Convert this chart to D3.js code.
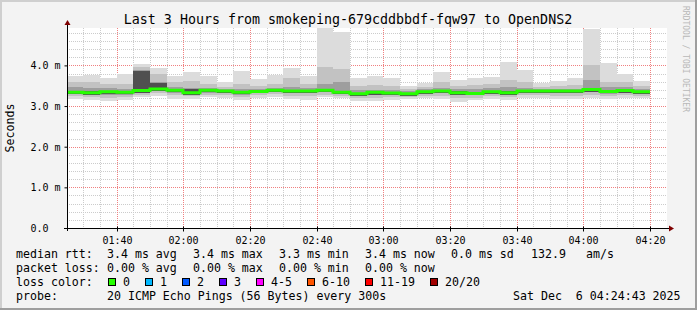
<!DOCTYPE html>
<html><head><meta charset="utf-8">
<script src="https://cdn.jsdelivr.net/npm/d3@7"></script>
<style>
body{margin:0;background:#f3f3f3}
svg{display:block}
text{font-family:"DejaVu Sans Mono",monospace;white-space:pre}
</style>
</head><body>
<svg id="c" width="697" height="310"></svg>
<script>
// ---------- data ----------
const titleText = "Last 3 Hours from smokeping-679cddbbdf-fqw97 to OpenDNS2";
const xTickLabels = ["01:40","02:00","02:20","02:40","03:00","03:20","03:40","04:00","04:20"];
const yTickValues = [0, 1, 2, 3, 4];
const yTickLabels = ["0.0", "1.0 m", "2.0 m", "3.0 m", "4.0 m"];
// rtt in ms, one entry per 5-minute step starting 01:25
const smokeMax = [3.74,3.76,3.70,3.79,4.03,3.93,3.74,3.83,3.73,3.60,3.86,3.66,3.76,3.94,3.74,4.93,4.81,3.70,3.74,3.68,3.49,3.56,3.83,3.64,3.68,3.72,4.09,3.88,3.56,3.61,3.68,4.89,4.06,3.80,3.61];
const smokeU2  = [3.60,3.58,3.55,3.55,3.95,3.80,3.60,3.62,3.55,3.48,3.55,3.50,3.55,3.70,3.55,3.95,3.90,3.50,3.52,3.50,3.42,3.48,3.60,3.50,3.52,3.55,3.65,3.60,3.48,3.50,3.52,4.00,3.60,3.58,3.50];
const smokeU3  = [3.48,3.45,3.45,3.43,3.88,3.60,3.48,3.45,3.45,3.42,3.42,3.42,3.45,3.48,3.45,3.55,3.60,3.40,3.40,3.40,3.37,3.42,3.45,3.42,3.43,3.45,3.48,3.45,3.42,3.43,3.43,3.65,3.48,3.46,3.43];
const smokeU4  = [3.37,3.36,3.38,3.37,3.87,3.56,3.42,3.42,3.42,3.40,3.37,3.39,3.42,3.40,3.40,3.42,3.37,3.33,3.37,3.35,3.33,3.38,3.40,3.36,3.34,3.38,3.36,3.40,3.40,3.40,3.40,3.44,3.39,3.41,3.38];
const medianRtt= [3.34,3.33,3.35,3.34,3.38,3.42,3.39,3.33,3.39,3.37,3.34,3.36,3.39,3.37,3.37,3.39,3.34,3.30,3.34,3.32,3.30,3.35,3.37,3.33,3.31,3.35,3.33,3.37,3.37,3.37,3.37,3.41,3.36,3.38,3.35];
const smokeL4  = [3.29,3.27,3.30,3.29,3.32,3.37,3.34,3.28,3.34,3.32,3.29,3.31,3.34,3.32,3.32,3.34,3.29,3.24,3.27,3.27,3.25,3.30,3.32,3.27,3.26,3.30,3.28,3.32,3.32,3.32,3.32,3.35,3.31,3.33,3.30];
const smokeL3  = [3.30,3.28,3.27,3.28,3.33,3.37,3.32,3.28,3.33,3.31,3.28,3.31,3.34,3.31,3.31,3.34,3.30,3.25,3.28,3.27,3.26,3.30,3.31,3.26,3.26,3.29,3.28,3.31,3.32,3.31,3.31,3.35,3.30,3.33,3.30];
const smokeL2  = [3.25,3.22,3.20,3.22,3.28,3.31,3.26,3.24,3.28,3.26,3.22,3.26,3.29,3.25,3.24,3.28,3.25,3.20,3.20,3.22,3.22,3.25,3.25,3.20,3.20,3.24,3.22,3.26,3.27,3.25,3.25,3.28,3.24,3.27,3.25];
const smokeMin = [3.17,3.16,3.12,3.14,3.22,3.25,3.18,3.17,3.22,3.20,3.15,3.20,3.23,3.18,3.15,3.22,3.20,3.13,3.12,3.15,3.17,3.19,3.18,3.11,3.14,3.17,3.15,3.19,3.21,3.18,3.17,3.20,3.17,3.20,3.19];
const lossLabels = ["0","1","2","3","4-5","6-10","11-19","20/20"];
const lossColors = ["#26ff00","#00b8ff","#0059ff","#5e00ff","#ff00ff","#ff5500","#ff0000","#a10000"];
const statsRtt  = ["3.4 ms avg","3.4 ms max","3.3 ms min","3.4 ms now","0.0 ms sd","132.9","am/s"];
const statsLoss = ["0.00 % avg","0.00 % max","0.00 % min","0.00 % now"];
const probeText = "20 ICMP Echo Pings (56 Bytes) every 300s";
const stampText = "Sat Dec  6 04:24:43 2025";

// ---------- layout ----------
const svg = d3.select("#c");
const W = 697, H = 310;
const PL = 67, PR = 667, PT = 28, PB = 228;
const t0 = new Date(2025, 11, 6, 1, 25, 0);
const t1 = new Date(2025, 11, 6, 4, 25, 0);
const x = d3.scaleTime().domain([t0, t1]).range([PL - 0.33, PR - 0.33]);
const y = d3.scaleLinear().domain([0, 4.92]).range([PB, PT]);
const R = v => Math.round(v);

// background + frame
svg.append("rect").attr("width", W).attr("height", H).attr("fill", "#f3f3f3");
svg.append("rect").attr("x", 0).attr("y", 0).attr("width", W).attr("height", 2).attr("fill", "#cfcfcf");
svg.append("rect").attr("x", 0).attr("y", 0).attr("width", 2).attr("height", H).attr("fill", "#cfcfcf");
svg.append("rect").attr("x", 0).attr("y", H - 2).attr("width", W).attr("height", 2).attr("fill", "#9e9e9e");
svg.append("rect").attr("x", W - 2).attr("y", 0).attr("width", 2).attr("height", H).attr("fill", "#9e9e9e");

// plot area
svg.append("rect").attr("x", PL).attr("y", PT).attr("width", PR - PL).attr("height", PB - PT).attr("fill", "#ffffff");

// grid
const grid = svg.append("g").attr("shape-rendering", "crispEdges");
const minorY = d3.range(1, 25).map(k => k * 0.2).filter(v => Math.abs(v - Math.round(v)) > 1e-6);
const minorX = d3.range(1, 36).map(k => d3.timeMinute.offset(t0, k * 5)).filter(d => d.getMinutes() % 20 !== 0);
const majorX = xTickLabels.map(s => { const [h, m] = s.split(":").map(Number); return new Date(2025, 11, 6, h, m, 0); });
grid.append("g").selectAll("line").data(minorY).join("line")
  .attr("x1", PL).attr("x2", PR).attr("y1", d => R(y(d)) + 0.5).attr("y2", d => R(y(d)) + 0.5)
  .attr("stroke", "#cccccc").attr("stroke-dasharray", "1,1");
grid.append("g").selectAll("line").data(minorX).join("line")
  .attr("x1", d => R(x(d)) + 0.5).attr("x2", d => R(x(d)) + 0.5).attr("y1", PT).attr("y2", PB)
  .attr("stroke", "#cccccc").attr("stroke-dasharray", "1,1");
grid.append("g").selectAll("line").data(yTickValues.slice(1)).join("line")
  .attr("x1", PL).attr("x2", PR).attr("y1", d => R(y(d)) + 0.5).attr("y2", d => R(y(d)) + 0.5)
  .attr("stroke", "#f08080").attr("stroke-dasharray", "1,1");
grid.append("g").selectAll("line").data(majorX).join("line")
  .attr("x1", d => R(x(d)) + 0.5).attr("x2", d => R(x(d)) + 0.5).attr("y1", PT).attr("y2", PB)
  .attr("stroke", "#f08080").attr("stroke-dasharray", "1,1");

// smoke
const times = medianRtt.map((_, i) => d3.timeMinute.offset(t0, i * 5));
const bands = [
  { lo: smokeMin, hi: smokeMax, color: "#dcdcdc" },
  { lo: smokeL2, hi: smokeU2, color: "#c2c2c2" },
  { lo: smokeL3, hi: smokeU3, color: "#9e9e9e" },
  { lo: smokeL4, hi: smokeU4, color: "#505050" }
];
const smoke = svg.append("g").attr("shape-rendering", "crispEdges");
bands.forEach(b => {
  smoke.append("g").selectAll("rect").data(times).join("rect")
    .attr("x", d => R(x(d)))
    .attr("width", d => R(x(d3.timeMinute.offset(d, 5))) - R(x(d)))
    .attr("y", (d, i) => R(y(b.hi[i])))
    .attr("height", (d, i) => Math.max(1, R(y(b.lo[i])) - R(y(b.hi[i]))))
    .attr("fill", b.color);
});

// median line
const medPts = times.map((t, i) => [t, medianRtt[i]]);
medPts.push([d3.timeMinute.offset(times[times.length - 1], 5), medianRtt[medianRtt.length - 1]]);
svg.append("path").datum(medPts)
  .attr("d", d3.line().x(d => R(x(d[0]))).y(d => y(d[1])).curve(d3.curveStepAfter))
  .attr("fill", "none").attr("stroke", lossColors[0]).attr("stroke-width", 3);

// axes
const yAxis = d3.axisLeft(y).tickValues(yTickValues).tickFormat((d, i) => yTickLabels[i]).tickSize(3).tickPadding(0);
const gy = svg.append("g").attr("transform", `translate(${PL + 0.5},0)`).call(yAxis);
gy.select(".domain").remove();
gy.selectAll(".tick text").attr("text-anchor", "start").attr("x", 30 - PL).attr("dy", "0.35em")
  .style("font-family", '"DejaVu Sans Mono",monospace').style("font-size", "10px").attr("fill", "#000");
gy.selectAll(".tick line").attr("stroke", "#000");
const xAxis = d3.axisBottom(x).tickValues(majorX).tickFormat((d, i) => xTickLabels[i]).tickSize(3).tickPadding(5);
const gx = svg.append("g").attr("transform", `translate(0,${PB + 0.5})`).call(xAxis);
gx.select(".domain").remove();
gx.selectAll(".tick").attr("transform", d => `translate(${R(x(d)) + 0.5},0)`);
gx.selectAll(".tick text").style("font-family", '"DejaVu Sans Mono",monospace').style("font-size", "10px").attr("fill", "#000");
gx.selectAll(".tick line").attr("stroke", "#000").attr("y1", -2);

svg.append("line").attr("x1", PL + 0.5).attr("x2", PL + 0.5).attr("y1", PB + 3).attr("y2", PT - 4).attr("stroke", "#000");
svg.append("line").attr("x1", PL - 3).attr("x2", PR + 3).attr("y1", PB + 0.5).attr("y2", PB + 0.5).attr("stroke", "#000");
svg.append("path").attr("d", `M${PL - 2.5},${PT - 3} L${PL + 3.5},${PT - 3} L${PL + 0.5},${PT - 8} Z`).attr("fill", "#7f0000");
svg.append("path").attr("d", `M${PR + 2},${PB - 2.5} L${PR + 2},${PB + 3.5} L${PR + 7},${PB + 0.5} Z`).attr("fill", "#7f0000");

// title and labels
svg.append("text").attr("x", 348).attr("y", 24).attr("text-anchor", "middle")
  .style("font-size", "13.3px").text(titleText);
svg.append("text").attr("transform", `translate(14,${(PT + PB) / 2}) rotate(-90)`).attr("text-anchor", "middle")
  .style("font-size", "11.6px").text("Seconds");
svg.append("text").attr("transform", "translate(686,59) rotate(90)").attr("text-anchor", "middle")
  .attr("dy", "0.35em").style("font-size", "8px").attr("fill", "#b8b8b8").text("RRDTOOL / TOBI OETIKER");

// legend
const lg = svg.append("g").style("font-size", "11.6px");
const colX = [107, 193, 279, 365, 451, 531, 586];
lg.append("text").attr("x", 16).attr("y", 258).text("median rtt:");
statsRtt.forEach((s, i) => lg.append("text").attr("x", colX[i]).attr("y", 258).text(s));
lg.append("text").attr("x", 16).attr("y", 272).text("packet loss:");
statsLoss.forEach((s, i) => lg.append("text").attr("x", colX[i]).attr("y", 272).text(s));
lg.append("text").attr("x", 16).attr("y", 286).text("loss color:");
const boxX = [108, 145, 182, 219, 256, 307, 365, 430];
lossLabels.forEach((s, i) => {
  lg.append("rect").attr("x", boxX[i] + 0.5).attr("y", 278.5).attr("width", 7).attr("height", 7)
    .attr("fill", lossColors[i]).attr("stroke", "#000");
  lg.append("text").attr("x", boxX[i] + 15).attr("y", 286).text(s);
});
lg.append("text").attr("x", 16).attr("y", 300).text("probe:");
lg.append("text").attr("x", 107).attr("y", 300).text(probeText);
lg.append("text").attr("x", 513).attr("y", 300).text(stampText);
</script>
</body></html>
